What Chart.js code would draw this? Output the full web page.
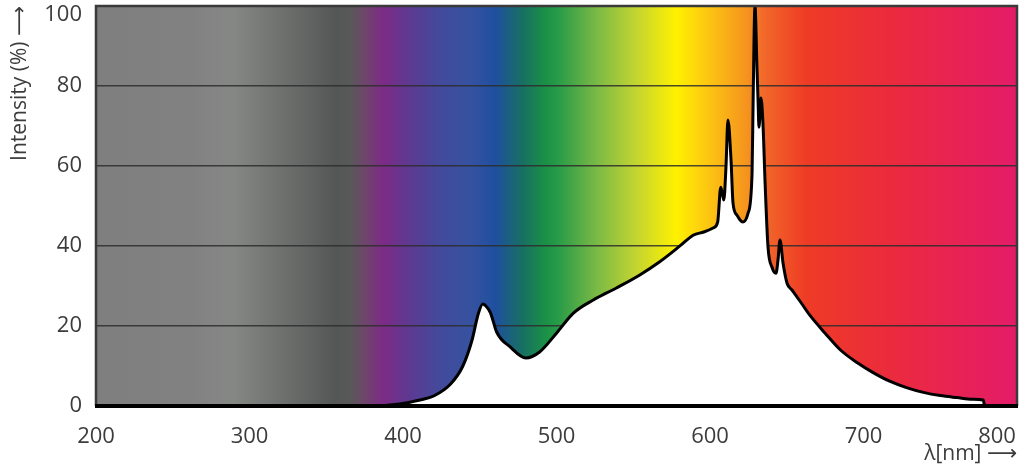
<!DOCTYPE html>
<html>
<head>
<meta charset="utf-8">
<script src="https://cdn.jsdelivr.net/npm/chart.js@4.4.1/dist/chart.umd.min.js"></script>
<style>
  html, body { margin: 0; padding: 0; background: #fff; }
  #wrap { width: 1024px; height: 469px; }
</style>
</head>
<body>
<div id="wrap"><canvas id="spectrumChart"></canvas></div>
<script>
// wavelength [nm] and relative intensity [%]
const wavelengths = [
  200, 378, 398, 411, 420, 431, 439, 445, 449, 452,
  454, 457, 461, 470, 480, 489, 500, 511, 524, 539,
  554, 567, 581, 589, 596, 602, 605, 607, 608.5, 609,
  610.4, 611.7, 613.7, 615, 617.6, 619.6, 621.5, 624.8, 627.4, 628.1,
  629.3, 630.6, 631.3, 631.9, 633.2, 634.5, 635.9, 637.8, 640.4, 643,
  644.3, 645.6, 647.6, 650.2, 653.4, 659, 665, 675, 685, 696,
  706, 717, 728, 739, 750, 761, 771, 778, 779, 800
];
const intensities = [
  0, 0, 0.5, 1.5, 2.5, 5.5, 10, 16.5, 23, 25.5,
  25, 23.3, 18.5, 14.7, 12, 13.5, 18.2, 23.2, 26.5, 29.5,
  32.7, 36, 40.2, 42.7, 43.5, 44.5, 46, 54.7, 52.2, 51.5,
  59.7, 71.5, 61.5, 50.7, 47.7, 46.5, 46, 48.2, 58.2, 76.5,
  100, 84.7, 76.5, 69.7, 77, 70.7, 55.7, 39.7, 34.7, 33.2,
  36.5, 41.5, 35.7, 30.7, 29, 26, 22.7, 18.2, 14, 10.8,
  8.4, 6.2, 4.6, 3.4, 2.6, 2.1, 1.7, 1.5, 0, 0
];
const xTicks = [200, 300, 400, 500, 600, 700, 800];
const yTicks = [0, 20, 40, 60, 80, 100];

// spectrum colours behind the plot, keyed by wavelength
const spectrumStops = [
  [200, '#7f7f7f'], [260, '#818181'], [290, '#858785'], [356, '#545755'],
  [365, '#575957'], [374, '#6c4868'], [387, '#7d2b86'], [405, '#5c3a92'],
  [424, '#434a9b'], [444, '#3652a0'], [460, '#1f4f9f'], [478, '#177062'],
  [493, '#1b9146'], [500, '#259a48'], [526, '#79b945'], [552, '#c4d531'],
  [578, '#fff100'], [594, '#fdd00f'], [625, '#f5911f'], [634, '#f26a2a'],
  [663, '#ee3b25'], [717, '#eb2b3d'], [800, '#e41b69']
];

const spectrumBackground = {
  id: 'spectrumBackground',
  beforeDraw(chart) {
    const {ctx, chartArea: a, scales} = chart;
    const w = a.right - a.left;
    const g = ctx.createLinearGradient(a.left, 0, a.right, 0);
    spectrumStops.forEach(([nm, c]) => {
      const p = (scales.x.getPixelForValue(nm) - a.left) / w;
      g.addColorStop(Math.min(1, Math.max(0, p)), c);
    });
    ctx.save();
    ctx.fillStyle = g;
    ctx.fillRect(a.left, a.top, w, a.bottom - a.top);
    ctx.restore();
  },
  afterDatasetsDraw(chart) {
    const {ctx, chartArea: a} = chart;
    ctx.save();
    ctx.strokeStyle = '#3a3a3a';
    ctx.lineWidth = 2.5;
    ctx.beginPath();
    ctx.moveTo(a.left, a.bottom);
    ctx.lineTo(a.left, a.top);
    ctx.lineTo(a.right, a.top);
    ctx.lineTo(a.right, a.bottom);
    ctx.stroke();
    ctx.strokeStyle = '#000';
    ctx.lineWidth = 4;
    ctx.beginPath();
    ctx.moveTo(a.left - 1, a.bottom);
    ctx.lineTo(a.right + 1, a.bottom);
    ctx.stroke();
    ctx.restore();
  }
};

const tickFont = {family: "'Open Sans', 'Noto Sans', sans-serif", size: 22};
const textColor = '#3c3c3c';

new Chart(document.getElementById('spectrumChart'), {
  type: 'line',
  data: {
    datasets: [{
      label: 'Intensity',
      data: wavelengths.map((w, i) => ({x: w, y: intensities[i]})),
      borderColor: '#000',
      borderWidth: 3,
      backgroundColor: '#fff',
      fill: 'origin',
      pointRadius: 0,
      cubicInterpolationMode: 'monotone'
    }]
  },
  options: {
    responsive: true,
    maintainAspectRatio: false,
    animation: false,
    layout: {padding: {top: 6, right: 7, bottom: 0, left: 0}},
    plugins: {legend: {display: false}, tooltip: {enabled: false}},
    scales: {
      x: {
        type: 'linear',
        min: 200,
        max: 800,
        afterBuildTicks: s => { s.ticks = xTicks.map(v => ({value: v})); },
        afterFit: s => { s.height = 63; s.paddingLeft = 0; s.paddingRight = 0; },
        grid: {display: false},
        border: {display: false},
        ticks: {
          font: tickFont,
          color: textColor,
          padding: 10,
          maxRotation: 0,
          autoSkip: false,
          // last label sits inside the frame
          callback: v => v === 800 ? '800       ' : String(v)
        },
        title: {
          display: true,
          text: 'λ[nm] ⟶',
          align: 'end',
          color: textColor,
          font: {family: "'Open Sans', 'DejaVu Sans', sans-serif", size: 21},
          padding: {top: 0, bottom: 2}
        }
      },
      y: {
        min: 0,
        max: 100,
        afterBuildTicks: s => { s.ticks = yTicks.map(v => ({value: v})); },
        afterFit: s => { s.width = 96; s.paddingTop = 0; s.paddingBottom = 0; },
        grid: {color: 'rgba(45,45,45,0.85)', lineWidth: 1.5, drawTicks: false},
        border: {display: false},
        ticks: {
          font: {...tickFont, lineHeight: '18px'},
          color: textColor,
          padding: 14,
          // top label sits inside the frame
          callback: v => v === 100 ? ['', '100'] : String(v)
        },
        title: {
          display: true,
          text: 'Intensity (%) ⟶',
          align: 'end',
          color: textColor,
          font: {family: "'Open Sans', 'DejaVu Sans', sans-serif", size: 21},
          padding: {top: 7, bottom: 0}
        }
      }
    }
  },
  plugins: [spectrumBackground]
});
</script>
</body>
</html>
